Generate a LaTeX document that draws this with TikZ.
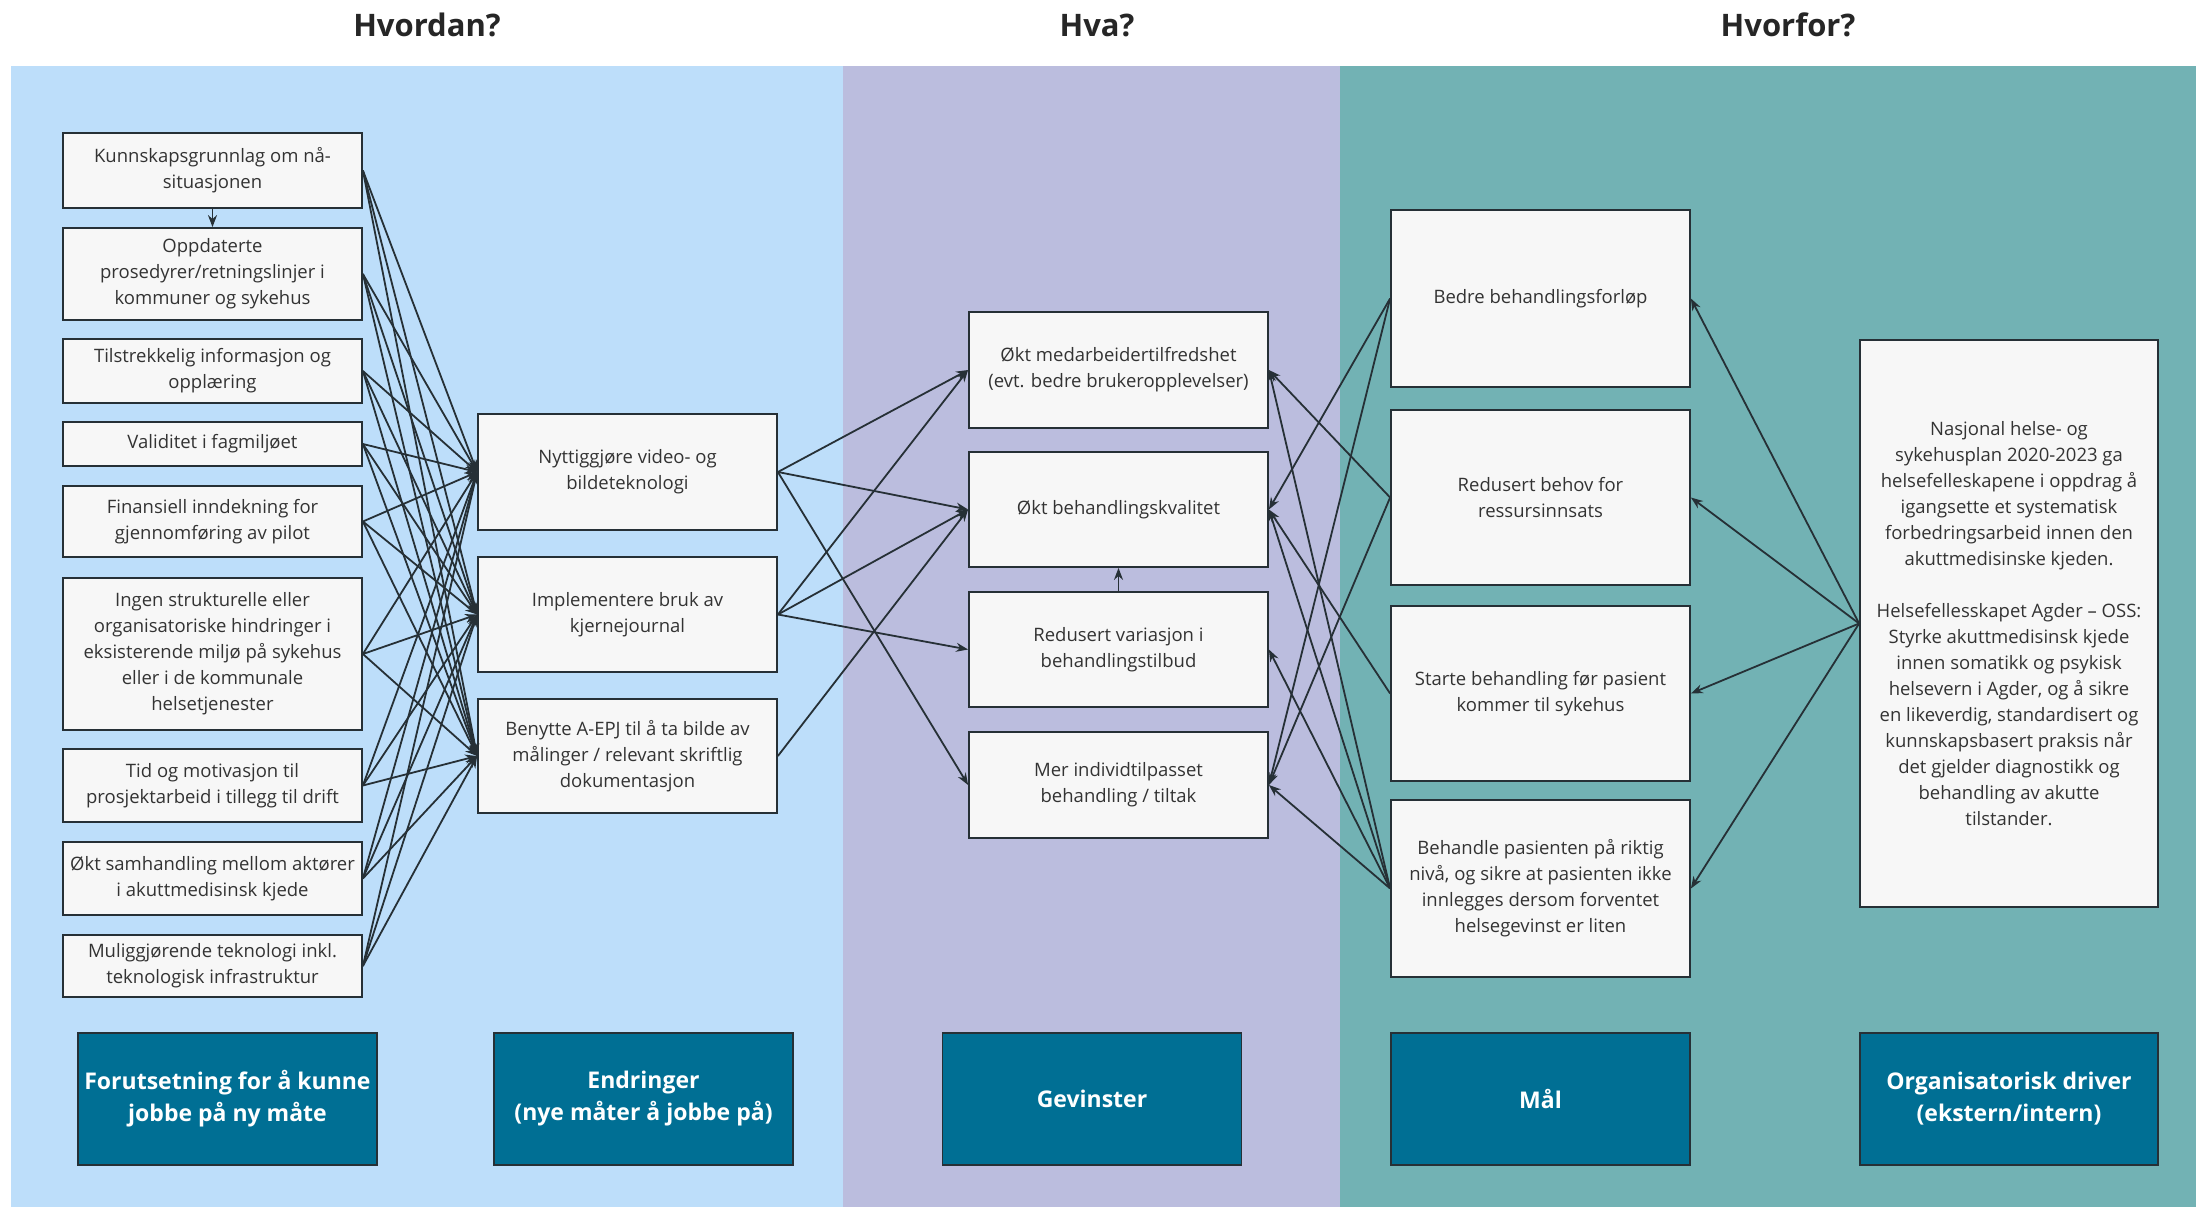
\documentclass[tikz,border=0pt]{standalone}
\usepackage{fontspec}
\setmainfont{Open Sans}
\usetikzlibrary{arrows.meta}

\definecolor{bandblue}{HTML}{BDDEFA}
\definecolor{bandlilac}{HTML}{BBBDDE}
\definecolor{bandteal}{HTML}{72B2B4}
\definecolor{tagfill}{HTML}{006F94}
\definecolor{boxfill}{HTML}{F7F7F7}
\definecolor{ink}{HTML}{263036}
\definecolor{txt}{HTML}{333333}

\begin{document}
\begin{tikzpicture}[x=1pt,y=-1pt,color=ink,line width=1.8pt,
  >={Stealth[length=12pt,width=9pt]},
  textbox/.style={draw=ink,line width=1.8pt,fill=boxfill,rectangle,align=center,text=txt,
    font=\fontsize{18.5}{26}\selectfont,inner sep=1pt,minimum width=299pt},
  labelbox/.style={draw=ink,line width=1.2pt,fill=tagfill,rectangle,align=center,text=white,
    font=\bfseries\fontsize{23}{32}\selectfont,minimum width=299pt,minimum height=132pt},
  heading/.style={font=\bfseries\fontsize{31}{36}\selectfont,text=black!85}]
\useasboundingbox (0,0) rectangle (2196,1207);

% bands
\fill[white] (0,0) rectangle (2196,1207);
\fill[bandblue] (11,66) rectangle (843,1207);
\fill[bandlilac] (843,66) rectangle (1340,1207);
\fill[bandteal] (1340,66) rectangle (2196,1207);

\node[heading] (hvordan) at (427,25) {Hvordan?};
\node[heading] (hva) at (1097,25) {Hva?};
\node[heading] (hvorfor) at (1788,25) {Hvorfor?};

% forutsetninger
\node[textbox,minimum height=75pt] (kunnskap) at (212.5,170.5) {Kunnskapsgrunnlag om nå-\\situasjonen};
\node[textbox,minimum height=92pt] (prosedyre) at (212.5,274) {Oppdaterte\\prosedyrer/retningslinjer i\\kommuner og sykehus};
\node[textbox,minimum height=64pt] (info) at (212.5,371) {Tilstrekkelig informasjon og\\opplæring};
\node[textbox,minimum height=44pt] (validitet) at (212.5,444) {Validitet i fagmiljøet};
\node[textbox,minimum height=71pt] (finans) at (212.5,521.5) {Finansiell inndekning for\\gjennomføring av pilot};
\node[textbox,minimum height=152pt] (hindring) at (212.5,654) {Ingen strukturelle eller\\organisatoriske hindringer i\\eksisterende miljø på sykehus\\eller i de kommunale\\helsetjenester};
\node[textbox,minimum height=73pt] (tid) at (212.5,785.5) {Tid og motivasjon til\\prosjektarbeid i tillegg til drift};
\node[textbox,minimum height=73pt] (samhandling) at (212.5,878.5) {Økt samhandling mellom aktører\\i akuttmedisinsk kjede};
\node[textbox,minimum height=62pt] (teknologi) at (212.5,966) {Muliggjørende teknologi inkl.\\teknologisk infrastruktur};

% endringer
\node[textbox,minimum height=116pt] (video) at (627.5,472) {Nyttiggjøre video- og\\bildeteknologi};
\node[textbox,minimum height=115pt] (kjerne) at (627.5,614.5) {Implementere bruk av\\kjernejournal};
\node[textbox,minimum height=114pt] (aepj) at (627.5,756) {Benytte A-EPJ til å ta bilde av\\målinger / relevant skriftlig\\dokumentasjon};

% gevinster
\node[textbox,minimum height=116pt] (tilfreds) at (1118.5,370) {Økt medarbeidertilfredshet\\(evt. bedre brukeropplevelser)};
\node[textbox,minimum height=115pt] (kvalitet) at (1118.5,509.5) {Økt behandlingskvalitet};
\node[textbox,minimum height=115pt] (variasjon) at (1118.5,649.5) {Redusert variasjon i\\behandlingstilbud};
\node[textbox,minimum height=106pt] (individ) at (1118.5,785) {Mer individtilpasset\\behandling / tiltak};

% mål
\node[textbox,minimum height=177pt] (forlop) at (1540.5,298.5) {Bedre behandlingsforløp};
\node[textbox,minimum height=175pt] (ressurs) at (1540.5,497.5) {Redusert behov for\\ressursinnsats};
\node[textbox,minimum height=175pt] (prehosp) at (1540.5,693.5) {Starte behandling før pasient\\kommer til sykehus};
\node[textbox,minimum height=177pt] (niva) at (1540.5,888.5) {Behandle pasienten på riktig\\nivå, og sikre at pasienten ikke\\innlegges dersom forventet\\helsegevinst er liten};

% driver
\node[textbox,minimum width=298pt,minimum height=567pt] (driver) at (2009,623.5) {Nasjonal helse- og\\sykehusplan 2020-2023 ga\\helsefelleskapene i oppdrag å\\igangsette et systematisk\\forbedringsarbeid innen den\\akuttmedisinske kjeden.\\[26pt]Helsefellesskapet Agder – OSS:\\Styrke akuttmedisinsk kjede\\innen somatikk og psykisk\\helsevern i Agder, og å sikre\\en likeverdig, standardisert og\\kunnskapsbasert praksis når\\det gjelder diagnostikk og\\behandling av akutte\\tilstander.};

% kolonnetitler
\node[labelbox] (forutsetning) at (227.5,1099) {Forutsetning for å kunne\\jobbe på ny måte};
\node[labelbox] (endringer) at (643.5,1099) {Endringer\\(nye måter å jobbe på)};
\node[labelbox] (gevinster) at (1092,1099) {Gevinster};
\node[labelbox] (maal) at (1540.5,1099) {Mål};
\node[labelbox,minimum width=298pt] (orgdriver) at (2009,1099) {Organisatorisk driver\\(ekstern/intern)};

% forutsetninger -> endringer
\draw[->] (kunnskap.south) -- (prosedyre.north);
\draw[->] (kunnskap.east) -- (video.west);
\draw[->] (kunnskap.east) -- (kjerne.west);
\draw[->] (kunnskap.east) -- (aepj.west);
\draw[->] (prosedyre.east) -- (video.west);
\draw[->] (prosedyre.east) -- (kjerne.west);
\draw[->] (prosedyre.east) -- (aepj.west);
\draw[->] (info.east) -- (video.west);
\draw[->] (info.east) -- (kjerne.west);
\draw[->] (info.east) -- (aepj.west);
\draw[->] (validitet.east) -- (video.west);
\draw[->] (validitet.east) -- (kjerne.west);
\draw[->] (validitet.east) -- (aepj.west);
\draw[->] (finans.east) -- (video.west);
\draw[->] (finans.east) -- (kjerne.west);
\draw[->] (finans.east) -- (aepj.west);
\draw[->] (hindring.east) -- (video.west);
\draw[->] (hindring.east) -- (kjerne.west);
\draw[->] (hindring.east) -- (aepj.west);
\draw[->] (tid.east) -- (video.west);
\draw[->] (tid.east) -- (kjerne.west);
\draw[->] (tid.east) -- (aepj.west);
\draw[->] (samhandling.east) -- (video.west);
\draw[->] (samhandling.east) -- (kjerne.west);
\draw[->] (samhandling.east) -- (aepj.west);
\draw[->] (teknologi.east) -- (video.west);
\draw[->] (teknologi.east) -- (kjerne.west);
\draw[->] (teknologi.east) -- (aepj.west);

% endringer -> gevinster
\draw[->] (video.east) -- (tilfreds.west);
\draw[->] (video.east) -- (kvalitet.west);
\draw[->] (video.east) -- (individ.west);
\draw[->] (kjerne.east) -- (tilfreds.west);
\draw[->] (kjerne.east) -- (kvalitet.west);
\draw[->] (kjerne.east) -- (variasjon.west);
\draw[->] (aepj.east) -- (kvalitet.west);
\draw[->] (variasjon.north) -- (kvalitet.south);

% mål -> gevinster
\draw[->] (forlop.west) -- (kvalitet.east);
\draw[->] (forlop.west) -- (individ.east);
\draw[->] (ressurs.west) -- (tilfreds.east);
\draw[->] (ressurs.west) -- (individ.east);
\draw[->] (prehosp.west) -- (kvalitet.east);
\draw[->] (niva.west) -- (tilfreds.east);
\draw[->] (niva.west) -- (kvalitet.east);
\draw[->] (niva.west) -- (variasjon.east);
\draw[->] (niva.west) -- (individ.east);

% driver -> mål
\draw[->] (driver.west) -- (forlop.east);
\draw[->] (driver.west) -- (ressurs.east);
\draw[->] (driver.west) -- (prehosp.east);
\draw[->] (driver.west) -- (niva.east);
\end{tikzpicture}
\end{document}
